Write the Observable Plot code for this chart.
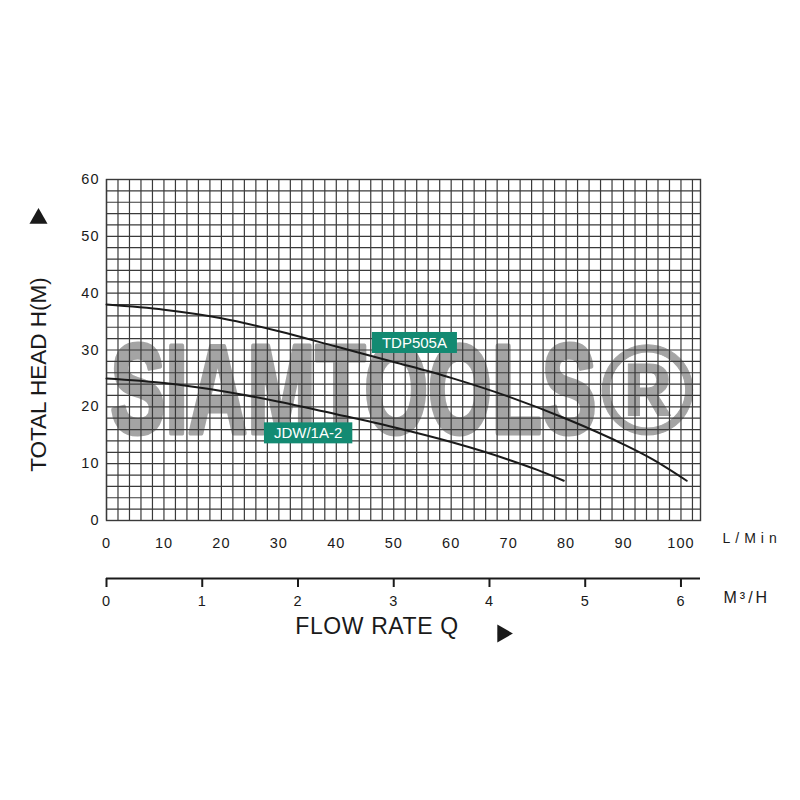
<!DOCTYPE html>
<html><head><meta charset="utf-8">
<script src="https://cdn.jsdelivr.net/npm/d3@7"></script>
<script src="https://cdn.jsdelivr.net/npm/@observablehq/plot@0.6"></script>
<style>
html,body{margin:0;padding:0;background:#fff;}
#wrap{position:relative;width:800px;height:800px;overflow:hidden;}
#wrap svg{position:absolute;left:0;}
</style></head><body><div id="wrap"></div>
<script>
// Flow rate (L/min) and total head (m)
const flowTDP = [0, 10, 20, 30, 40, 50, 60, 70, 80, 90, 95, 101];
const headTDP = [38, 37.1, 35.6, 33.3, 30.6, 27.9, 25.1, 21.8, 17.9, 13.4, 10.8, 7];
const flowJDW = [0, 10, 20, 30, 40, 50, 60, 70, 75, 79.6];
const headJDW = [25, 24.2, 22.8, 20.9, 18.7, 16.4, 13.8, 10.7, 8.9, 7];

const seriesNames = ["TDP505A", "JDW/1A-2"];
const labelFlow = [53.6, 35.1];
const labelHead = [31.2, 15.3];

const xTicks = [0, 10, 20, 30, 40, 50, 60, 70, 80, 90, 100];
const yTicks = [0, 10, 20, 30, 40, 50, 60];
const m3hTicks = [0, 1, 2, 3, 4, 5, 6];
const gridFlow = d3.range(0, 103, 2);
const gridHead = d3.range(0, 61, 2);
const flowMax = 103.4;
const lminToM3h = 0.06;

const watermark = ["SIAMTOOLS"];
const watermarkMark = ["®"];
const yTitle = ["TOTAL HEAD H(M)"];
const xTitle = ["FLOW RATE Q"];
const unitLmin = ["L/Min"];
const unitM3h = ["M³/H"];

const tdp = flowTDP.map((q, i) => ({q, h: headTDP[i]}));
const jdw = flowJDW.map((q, i) => ({q, h: headJDW[i]}));
const labels = seriesNames.map((name, i) => ({name, q: labelFlow[i], h: labelHead[i]}));

const FONT = "'Liberation Sans', Arial, Helvetica, sans-serif";
const INK = "#1a1a1a";
const GRID = "#3a3a3a";
const WM = "#a4a4a4";

const main = Plot.plot({
  width: 800, height: 800,
  marginLeft: 106, marginRight: 100, marginTop: 179, marginBottom: 280,
  style: {fontFamily: FONT, fontSize: "14px", color: INK, background: "#fff"},
  x: {domain: [0, flowMax]},
  y: {domain: [0, 60]},
  marks: [
    Plot.text(watermark, {frameAnchor: "middle", textAnchor: "middle", dx: -50, dy: 43, fontSize: 126, fontWeight: "bold", fill: WM, stroke: WM, strokeWidth: 5}),
    Plot.text(watermarkMark, {frameAnchor: "middle", textAnchor: "middle", dx: 244, dy: 43, fontSize: 128, fontWeight: "bold", fill: WM, stroke: WM, strokeWidth: 1}),
    Plot.ruleX(gridFlow, {stroke: GRID, strokeWidth: 1.2}),
    Plot.ruleY(gridHead, {stroke: GRID, strokeWidth: 1.2}),
    Plot.frame({stroke: GRID, strokeWidth: 1.4}),
    Plot.line(tdp, {x: "q", y: "h", curve: "monotone-x", stroke: INK, strokeWidth: 2}),
    Plot.line(jdw, {x: "q", y: "h", curve: "monotone-x", stroke: INK, strokeWidth: 2}),
    Plot.text(labels, {x: "q", y: "h", text: "name", fill: "#fff", fontSize: 15}),
    Plot.axisX(xTicks, {tickSize: 0, tickPadding: 17, fontSize: 14.5, fill: INK, label: null}),
    Plot.axisY(yTicks, {tickSize: 0, tickPadding: 7, fontSize: 14.5, fill: INK, label: null}),
    Plot.text(yTitle, {frameAnchor: "left", textAnchor: "middle", dx: -68, dy: 24.5, rotate: -90, fontSize: 22.5, fill: INK}),
    Plot.dot([0], {frameAnchor: "left", dx: -68, dy: -131.5, symbol: "triangle", r: 6.7, fill: INK, stroke: null}),
    Plot.text(unitLmin, {frameAnchor: "bottom-right", textAnchor: "start", dx: 22, dy: 22, fontSize: 14, fill: INK}),
    Plot.text(xTitle, {frameAnchor: "bottom", textAnchor: "middle", dx: -26.5, dy: 113, fontSize: 23, fill: INK}),
    Plot.dot([0], {frameAnchor: "bottom", dx: 99, dy: 113, symbol: "triangle", rotate: 90, r: 6.7, fill: INK, stroke: null})
  ]
});

const second = Plot.plot({
  width: 800, height: 100,
  marginLeft: 106, marginRight: 100, marginTop: 0, marginBottom: 82,
  style: {fontFamily: FONT, fontSize: "14px", color: INK, background: "transparent"},
  x: {domain: [0, flowMax * lminToM3h]},
  y: {domain: [0, 1], axis: null},
  marks: [
    Plot.ruleY([0], {stroke: INK, strokeWidth: 2}),
    Plot.axisX(m3hTicks, {tickSize: 9, tickPadding: 8, strokeWidth: 2, stroke: INK, fontSize: 14.5, fill: INK, label: null}),
    Plot.text(unitM3h, {frameAnchor: "bottom-right", textAnchor: "start", dx: 23, dy: 24, fontSize: 16, fill: INK})
  ]
});

const wrap = document.getElementById("wrap");
main.style.top = "0px";
second.style.top = "560px";
wrap.appendChild(main);
wrap.appendChild(second);

// letter spacing on numeric tick labels and units
d3.selectAll("#wrap svg text").each(function () {
  const t = this.textContent;
  if (/^\d+$/.test(t)) this.style.letterSpacing = "1px";
  if (t === "L/Min") this.style.letterSpacing = "5px";
  if (t === "M³/H") this.style.letterSpacing = "3px";
  if (t === xTitle[0]) this.style.letterSpacing = "0.6px";
});

// condensed watermark
d3.select(main).selectAll("text").filter(function () { return this.textContent === watermark[0]; })
  .attr("textLength", 486).attr("lengthAdjust", "spacingAndGlyphs");

// teal label boxes
d3.select(main).selectAll("text").filter(function () { return seriesNames.includes(this.textContent); })
  .each(function () {
    const b = this.getBBox();
    const r = document.createElementNS("http://www.w3.org/2000/svg", "rect");
    r.setAttribute("x", b.x - 10);
    r.setAttribute("y", b.y + b.height / 2 - 10.5);
    r.setAttribute("width", b.width + 20);
    r.setAttribute("height", 21);
    r.setAttribute("fill", "#138a72");
    const tr = this.getAttribute("transform");
    if (tr) r.setAttribute("transform", tr);
    this.parentNode.insertBefore(r, this);
  });
</script></body></html>
